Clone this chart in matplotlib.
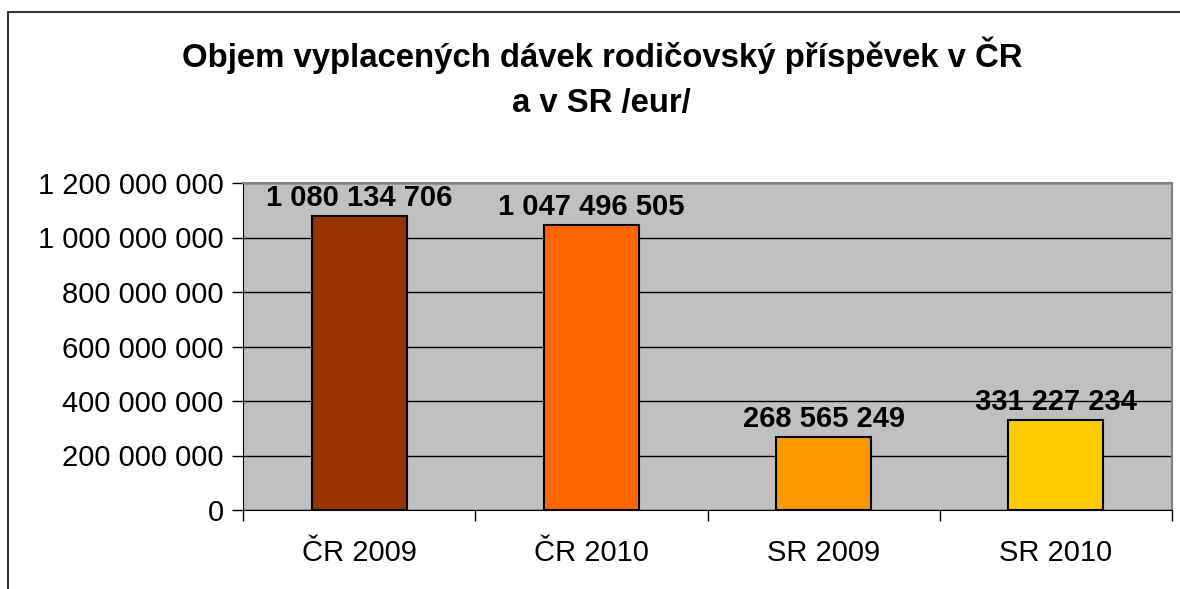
import matplotlib.pyplot as plt
from matplotlib.patches import Rectangle
from matplotlib.ticker import FuncFormatter, MultipleLocator
import numpy as np

plt.rcParams['font.family'] = ['Liberation Sans', 'DejaVu Sans']

categories = ['ČR 2009', 'ČR 2010', 'SR 2009', 'SR 2010']
values = [1080134706, 1047496505, 268565249, 331227234]
bar_colors = ['#993300', '#FF6600', '#FF9900', '#FFCC00']
title = 'Objem vyplacených dávek rodičovský příspěvek v ČR\na v SR /eur/'


def fmt(v):
    return f'{int(v):,}'.replace(',', ' ')


fig = plt.figure(figsize=(11.8, 5.89), dpi=100)
ax = fig.add_axes([243 / 1180, 1 - 510 / 589, (1172 - 243) / 1180, (510 - 183) / 589])

x = np.arange(len(categories))
ax.bar(x, values, width=0.41, color=bar_colors, edgecolor='black', linewidth=1.5, zorder=3)

ax.set_facecolor('#C0C0C0')
ax.set_xlim(-0.5, len(categories) - 0.5)
ax.set_ylim(0, 1200000000)
ax.yaxis.set_major_locator(MultipleLocator(200000000))
ax.yaxis.set_major_formatter(FuncFormatter(lambda v, p: fmt(v)))
ax.grid(axis='y', color='black', linewidth=1, zorder=1)

ax.set_xticks(x)
ax.set_xticklabels(categories)
ax.set_xticks(np.arange(-0.5, len(categories)), minor=True)
ax.tick_params(axis='x', which='major', length=0, pad=21, labelsize=21)
ax.tick_params(axis='x', which='minor', length=8, width=1, direction='out')
ax.tick_params(axis='y', length=8, width=1, labelsize=21, pad=6)

for side in ['top', 'right']:
    ax.spines[side].set_color('#808080')
    ax.spines[side].set_linewidth(1.5)
ax.spines['left'].set_color('black')
ax.spines['bottom'].set_color('black')

for xi, v in zip(x, values):
    ax.annotate(fmt(v), (xi, v), xytext=(0, 2.5), textcoords='offset points',
                ha='center', va='bottom', fontsize=21, fontweight='bold', zorder=4)

fig.text(0.51, 1 - 78 / 589, title, ha='center', va='center', fontsize=23.7,
         fontweight='bold', linespacing=1.6)

fig.patches.append(Rectangle((8 / 1180, -0.1), 2, (589 - 12) / 589 + 0.1,
                             transform=fig.transFigure, fill=False,
                             edgecolor='#333333', linewidth=1.5))

fig.savefig('out.png', dpi=100)
